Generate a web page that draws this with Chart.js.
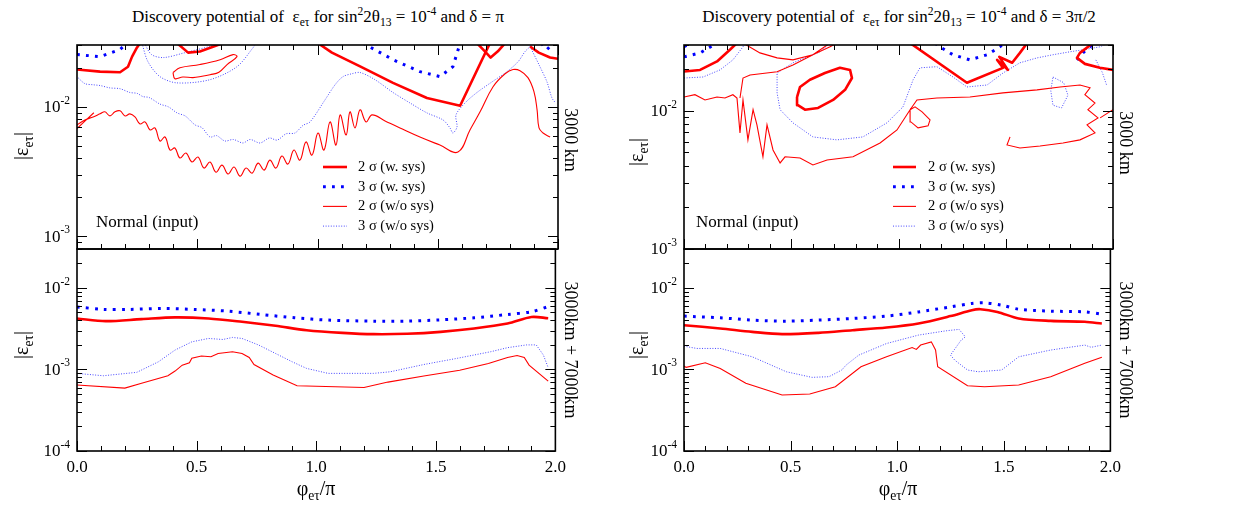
<!DOCTYPE html>
<html>
<head>
<meta charset="utf-8">
<script src="https://cdn.jsdelivr.net/npm/chart.js@4.4.0/dist/chart.umd.min.js"></script>
<style>
  body { margin: 0; background: #fff; }
  #fig { position: relative; width: 1247px; height: 506px; font-family: "Liberation Serif", "DejaVu Serif", serif; color: #000; overflow: hidden; }
  #fig canvas { position: absolute; }
  .lbl { position: absolute; white-space: nowrap; line-height: 1; }
  .title { font-size: 17px; transform: translateX(-50%); }
  .ytitle { font-size: 20px; transform: translate(-50%, -50%) rotate(-90deg); }
  .side { font-size: 18px; transform: translate(-50%, -50%) rotate(90deg); }
  .xtitle { font-size: 20px; transform: translate(-50%, -50%); }
  .note { font-size: 17px; }
  sub, sup { font-size: 68%; line-height: 0; }
</style>
</head>
<body>
<div id="fig">
  <canvas id="lt" width="562" height="220" style="left:0;top:41px"></canvas>
  <canvas id="lb" width="572" height="245" style="left:0;top:245px"></canvas>
  <canvas id="rt" width="497" height="220" style="left:620px;top:41px"></canvas>
  <canvas id="rb" width="507" height="245" style="left:620px;top:245px"></canvas>

  <div class="lbl title" style="left:318px;top:8px">Discovery potential of&nbsp; ε<sub>eτ</sub> for sin<sup>2</sup>2θ<sub>13</sub> = 10<sup>-4</sup> and δ = π</div>
  <div class="lbl title" style="left:899px;top:8px">Discovery potential of&nbsp; ε<sub>eτ</sub> for sin<sup>2</sup>2θ<sub>13</sub> = 10<sup>-4</sup> and δ = 3π/2</div>

  <div class="lbl ytitle" style="left:21px;top:146px">|ε<sub>eτ</sub>|</div>
  <div class="lbl ytitle" style="left:21px;top:345px">|ε<sub>eτ</sub>|</div>
  <div class="lbl ytitle" style="left:636px;top:152px">|ε<sub>eτ</sub>|</div>
  <div class="lbl ytitle" style="left:636px;top:345px">|ε<sub>eτ</sub>|</div>

  <div class="lbl side" style="left:571px;top:140px">3000 km</div>
  <div class="lbl side" style="left:571px;top:350px">3000km + 7000km</div>
  <div class="lbl side" style="left:1126px;top:143px">3000 km</div>
  <div class="lbl side" style="left:1126px;top:350px">3000km + 7000km</div>

  <div class="lbl xtitle" style="left:316px;top:488px">φ<sub>eτ</sub>/π</div>
  <div class="lbl xtitle" style="left:898px;top:488px">φ<sub>eτ</sub>/π</div>

  <div class="lbl note" style="left:96px;top:213px">Normal (input)</div>
  <div class="lbl note" style="left:696px;top:213px">Normal (input)</div>
</div>
<script>
// φ/π on x, |ε_eτ| on y; null breaks a contour into separate pieces
const xTickLabels = ['0.0', '0.5', '1.0', '1.5', '2.0'];
const keyLabels = ['2 σ (w. sys)', '3 σ (w. sys)', '2 σ (w/o sys)', '3 σ (w/o sys)'];

// δ = π, 3000 km
const ltSys2 = [
  [0, 0.0194], [0.096, 0.0187], [0.179, 0.0185], [0.212, 0.0204], [0.229, 0.0244], [0.249, 0.0286], [0.262, 0.031], null,
  [0.416, 0.031], [0.462, 0.0262], [0.511, 0.0267], [0.607, 0.031], null,
  [1.002, 0.031], [1.06, 0.0262], [1.177, 0.0205], [1.314, 0.0153], [1.455, 0.0117], [1.593, 0.0102], [1.717, 0.031], null,
  [1.663, 0.031], [1.696, 0.0268], [1.72, 0.0240], [1.75, 0.0268], [1.78, 0.031], null,
  [1.884, 0.0292], [1.92, 0.0262], [1.967, 0.0240], [2.0, 0.0235]
];
const ltSys3 = [
  [0, 0.0253], [0.096, 0.0244], [0.179, 0.0277], [0.208, 0.031], null,
  [1.189, 0.031], [1.314, 0.0231], [1.426, 0.0187], [1.509, 0.0171], [1.563, 0.0204], [1.593, 0.031], null,
  [1.93, 0.031], [1.954, 0.0277], [1.98, 0.031]
];
const ltStat2 = [
  [0, 0.00725], [0.033, 0.00792], [0.067, 0.00836], [0.096, 0.00883], [0.116, 0.00915], [0.137, 0.00851], [0.158, 0.00915],
  [0.179, 0.00931], [0.200, 0.00851], [0.220, 0.00883], [0.241, 0.00836], [0.262, 0.00738], [0.283, 0.00765], [0.304, 0.00663],
  [0.324, 0.00687], [0.345, 0.00545], [0.366, 0.00585], [0.387, 0.00464], [0.407, 0.00481], [0.428, 0.00403], [0.453, 0.00440],
  [0.478, 0.00375], [0.503, 0.00410], [0.528, 0.00337], [0.553, 0.00375], [0.578, 0.00313], [0.603, 0.00355], [0.628, 0.00303],
  [0.653, 0.00343], [0.678, 0.00292], [0.703, 0.00337], [0.728, 0.00308], [0.753, 0.00368], [0.778, 0.00325], [0.802, 0.00388],
  [0.827, 0.00337], [0.852, 0.00417], [0.877, 0.00362], [0.902, 0.00464], [0.927, 0.00388], [0.952, 0.00536], [0.977, 0.00424],
  [1.002, 0.00628], [1.027, 0.00464], [1.052, 0.00765], [1.077, 0.00507], [1.094, 0.00867], [1.119, 0.00606], [1.135, 0.00915],
  [1.156, 0.00687], [1.177, 0.00948], [1.202, 0.00765], [1.227, 0.00867], [1.281, 0.00778], [1.343, 0.00687], [1.426, 0.00585],
  [1.509, 0.00507], [1.584, 0.00448], [1.634, 0.00663], [1.676, 0.00915], [1.730, 0.0143], [1.780, 0.0180], [1.813, 0.0194],
  [1.842, 0.0190], [1.875, 0.0168], [1.900, 0.0131], [1.913, 0.00948], [1.921, 0.00687], [1.938, 0.00628], [1.967, 0.00585], null,
  [0.399, 0.0184], [0.428, 0.0200], [0.511, 0.0212], [0.595, 0.0231], [0.649, 0.0253], [0.665, 0.0244], [0.624, 0.0212],
  [0.59, 0.0185], [0.553, 0.0177], [0.52, 0.0172], [0.482, 0.0168], [0.44, 0.0170], [0.407, 0.0165], [0.399, 0.0184], null,
  [0, 0.0068], [0.07, 0.0090]
];
const ltStat3 = [
  [0.004, 0.0168], [0.033, 0.0151], [0.067, 0.0148], [0.096, 0.0146], [0.137, 0.0140], [0.179, 0.0138], [0.220, 0.0129],
  [0.25, 0.0127], [0.274, 0.0120], [0.30, 0.0118], [0.345, 0.0105], [0.38, 0.0100], [0.416, 0.00898], [0.45, 0.00850],
  [0.491, 0.00725], [0.52, 0.00690], [0.553, 0.00585], [0.58, 0.00600], [0.615, 0.00545], [0.65, 0.00560], [0.690, 0.00526],
  [0.72, 0.00560], [0.761, 0.00526], [0.80, 0.00575], [0.832, 0.00554], [0.87, 0.00620], [0.906, 0.00628], [0.94, 0.00720],
  [0.969, 0.00765], [1.031, 0.0113], [1.073, 0.0148], [1.106, 0.0171], [1.143, 0.0180], [1.177, 0.0184], [1.239, 0.0162],
  [1.314, 0.0129], [1.385, 0.0107], [1.455, 0.00898], [1.522, 0.00792], [1.551, 0.00687], [1.563, 0.00628], [1.580, 0.00699],
  [1.576, 0.00867], [1.613, 0.0107], [1.663, 0.0129], [1.726, 0.0156], [1.788, 0.0187], [1.834, 0.0223], [1.863, 0.0267],
  [1.884, 0.0292], [1.896, 0.031], null,
  [1.884, 0.0292], [1.925, 0.0204], [1.954, 0.0156], [1.975, 0.0117], [1.99, 0.0107], null,
  [0.27, 0.031], [0.295, 0.0223], [0.345, 0.0171], [0.416, 0.0153], [0.553, 0.0162], [0.665, 0.0204], [0.732, 0.0286], [0.744, 0.031], null,
  [0.28, 0.031], [0.31, 0.0253], [0.36, 0.0240], [0.45, 0.0262], [0.55, 0.0292], [0.60, 0.031]
];

// δ = π, 3000 km + 7000 km
const lbSys2 = [
  [0, 0.00422], [0.12, 0.00391], [0.27, 0.00414], [0.41, 0.00435], [0.55, 0.00422], [0.69, 0.00384], [0.83, 0.00343],
  [0.96, 0.00303], [1.11, 0.00281], [1.24, 0.00271], [1.38, 0.00274], [1.52, 0.00289], [1.66, 0.00318], [1.80, 0.00366],
  [1.90, 0.00440], [1.97, 0.00425]
];
const lbSys3 = [
  [0, 0.00585], [0.11, 0.00545], [0.22, 0.00545], [0.36, 0.00560], [0.49, 0.00545], [0.63, 0.00519], [0.77, 0.00472],
  [0.91, 0.00430], [1.05, 0.00403], [1.24, 0.00391], [1.38, 0.00391], [1.52, 0.00406], [1.66, 0.00430], [1.80, 0.00472],
  [1.90, 0.00510], [1.97, 0.00590]
];
const lbStat2 = [
  [0, 0.000644], [0.20, 0.000590], [0.27, 0.000676], [0.38, 0.000837], [0.41, 0.000955], [0.44, 0.00113], [0.47, 0.00121],
  [0.48, 0.00137], [0.52, 0.00146], [0.56, 0.00143], [0.59, 0.00157], [0.65, 0.00165], [0.69, 0.00157], [0.72, 0.00140],
  [0.74, 0.00115], [0.82, 0.000854], [0.92, 0.000630], [1.20, 0.000600], [1.30, 0.000700], [1.45, 0.000830], [1.60, 0.000980],
  [1.72, 0.00118], [1.80, 0.00140], [1.84, 0.00148], [1.87, 0.00140], [1.89, 0.00113], [1.97, 0.000720]
];
const lbStat3 = [
  [0, 0.000895], [0.11, 0.000837], [0.25, 0.000922], [0.34, 0.00124], [0.41, 0.00173], [0.48, 0.00218], [0.55, 0.00240],
  [0.61, 0.00233], [0.65, 0.00247], [0.69, 0.00240], [0.76, 0.00199], [0.83, 0.00157], [0.90, 0.00124], [0.96, 0.00103],
  [1.05, 0.000895], [1.24, 0.000895], [1.31, 0.000937], [1.45, 0.00115], [1.59, 0.00137], [1.73, 0.00165], [1.80, 0.00185],
  [1.88, 0.00200], [1.92, 0.00200], [1.95, 0.00150], [1.97, 0.00105]
];

// δ = 3π/2, 3000 km
const rtSys2 = [
  [0, 0.0193], [0.075, 0.0198], [0.154, 0.0228], [0.214, 0.0277], [0.247, 0.031], null,
  [0.527, 0.0126], [0.541, 0.0149], [0.587, 0.0168], [0.657, 0.0188], [0.727, 0.0205], [0.774, 0.0198], [0.783, 0.0173],
  [0.751, 0.0142], [0.695, 0.0120], [0.625, 0.0105], [0.564, 0.0102], [0.531, 0.0110], [0.527, 0.0126], null,
  [1.054, 0.031], [1.319, 0.0160], [1.487, 0.0205], [1.46, 0.0234], [1.51, 0.0198], [1.47, 0.0246], [1.53, 0.0223],
  [1.566, 0.0263], [1.60, 0.031], null,
  [1.907, 0.031], [1.846, 0.0263], [1.832, 0.0242], [1.869, 0.0219], [1.939, 0.0205], [2.0, 0.0198]
];
const rtSys3 = [
  [0, 0.0246], [0.075, 0.0263], [0.154, 0.031], null,
  [0, 0.0291], [0.03, 0.031], null,
  [1.17, 0.031], [1.193, 0.0291], [1.254, 0.0255], [1.333, 0.0234], [1.413, 0.0255], [1.473, 0.0291], [1.49, 0.031], null,
  [1.832, 0.0234], [1.860, 0.0263], [1.893, 0.0291], [1.91, 0.031]
];
const rtStat2 = [
  [0, 0.0126], [0.051, 0.0131], [0.098, 0.0120], [0.154, 0.0126], [0.191, 0.0124], [0.228, 0.0131], [0.247, 0.0124],
  [0.261, 0.00693], [0.275, 0.0120], [0.298, 0.00617], [0.322, 0.0102], [0.340, 0.00792], [0.368, 0.00465], [0.387, 0.00792],
  [0.415, 0.00521], [0.448, 0.00420], [0.471, 0.00465], [0.541, 0.00456], [0.601, 0.00406], [0.667, 0.00441], [0.788, 0.00465],
  [0.914, 0.00586], [0.993, 0.00728], [1.054, 0.0102], [1.086, 0.0120], [1.179, 0.0124], [1.333, 0.0126], [1.487, 0.0135],
  [1.646, 0.0142], [1.753, 0.0149], [1.846, 0.0154], [1.893, 0.0147], [1.869, 0.0131], [1.916, 0.0114], [1.883, 0.0102],
  [1.930, 0.00890], [1.879, 0.00792], [1.916, 0.00693], [1.846, 0.00617], [1.767, 0.00586], [1.660, 0.00557], [1.566, 0.00539],
  [1.506, 0.00567], [1.520, 0.00648], null,
  [0.275, 0.031], [0.354, 0.0263], [0.434, 0.0242], [0.508, 0.0234], [0.601, 0.0255], [0.681, 0.0291], [0.713, 0.031], null,
  [0.261, 0.0124], [0.275, 0.0173], [0.308, 0.0182], [0.434, 0.0192], [0.508, 0.0215], [0.601, 0.0255], [0.681, 0.031], null,
  [1.054, 0.0102], [1.077, 0.0107], [1.110, 0.00984], [1.147, 0.00861], [1.138, 0.00779], [1.091, 0.00754], [1.058, 0.00832],
  [1.054, 0.0102], null,
  [1.94, 0.0089], [2.0, 0.0102]
];
const rtStat3 = [
  [0, 0.0173], [0.089, 0.0176], [0.168, 0.0198], [0.228, 0.0234], [0.275, 0.0291], [0.284, 0.031], null,
  [0.681, 0.031], [0.634, 0.0268], [0.508, 0.0223], [0.434, 0.0188], [0.434, 0.0135], [0.448, 0.0102], [0.508, 0.00819],
  [0.601, 0.00648], [0.713, 0.00617], [0.834, 0.00648], [0.946, 0.00819], [1.021, 0.0107], [1.068, 0.0168], [1.100, 0.0205],
  [1.179, 0.0209], [1.254, 0.0176], [1.319, 0.0149], [1.413, 0.0154], [1.487, 0.0188], [1.566, 0.0223], [1.646, 0.0242],
  [1.720, 0.0255], [1.80, 0.0268], [1.860, 0.0277], [1.939, 0.0291], [1.98, 0.031], null,
  [1.72, 0.0176], [1.77, 0.0160], [1.79, 0.0130], [1.76, 0.0105], [1.72, 0.0110], [1.71, 0.0140], [1.72, 0.0176], null,
  [1.92, 0.0234], [1.95, 0.0190], [1.97, 0.0154]
];

// δ = 3π/2, 3000 km + 7000 km
const rbSys2 = [
  [0, 0.00349], [0.17, 0.00318], [0.32, 0.00289], [0.46, 0.00271], [0.63, 0.00281], [0.79, 0.00303], [0.95, 0.00327],
  [1.10, 0.00366], [1.25, 0.00451], [1.35, 0.00533], [1.39, 0.00548], [1.47, 0.00508], [1.57, 0.00422], [1.72, 0.00394],
  [1.88, 0.00384], [1.96, 0.00366]
];
const rbSys3 = [
  [0, 0.00451], [0.17, 0.00430], [0.32, 0.00403], [0.48, 0.00391], [0.63, 0.00403], [0.79, 0.00422], [0.95, 0.00451],
  [1.10, 0.00508], [1.25, 0.00585], [1.35, 0.00644], [1.41, 0.00655], [1.49, 0.00614], [1.57, 0.00548], [1.72, 0.00519],
  [1.88, 0.00508], [1.96, 0.00476]
];
const rbStat2 = [
  [0, 0.00110], [0.01, 0.00106], [0.10, 0.00121], [0.17, 0.00103], [0.29, 0.000676], [0.46, 0.000486], [0.59, 0.000500],
  [0.71, 0.000614], [0.83, 0.00108], [0.95, 0.00143], [1.07, 0.00186], [1.09, 0.00176], [1.11, 0.00199], [1.16, 0.00218],
  [1.18, 0.00173], [1.19, 0.00108], [1.33, 0.000631], [1.41, 0.000614], [1.57, 0.000644], [1.72, 0.000815], [1.88, 0.00119],
  [1.96, 0.00141]
];
const rbStat3 = [
  [0, 0.00193], [0.06, 0.00181], [0.17, 0.00181], [0.32, 0.00143], [0.48, 0.000937], [0.60, 0.000800], [0.68, 0.000815],
  [0.74, 0.000984], [0.76, 0.00113], [0.82, 0.00150], [0.95, 0.00208], [1.10, 0.00264], [1.23, 0.00298], [1.29, 0.00310],
  [1.32, 0.00251], [1.30, 0.00229], [1.25, 0.00150], [1.27, 0.00130], [1.33, 0.000984], [1.38, 0.000937], [1.49, 0.000984],
  [1.51, 0.00108], [1.57, 0.00143], [1.72, 0.00173], [1.88, 0.00199], [1.91, 0.00187], [1.96, 0.00199]
];

const serif = '"Liberation Serif", "DejaVu Serif", serif';

// one style per contour level: thick = with systematics, thin = without
const lineStyles = [
  { borderColor: '#ff0000', borderWidth: 2.6, borderJoinStyle: 'round' },
  { borderColor: '#0000ff', borderWidth: 3, borderDash: [2.8, 6.2] },
  { borderColor: '#ff0000', borderWidth: 1.1 },
  { borderColor: '#4848ff', borderWidth: 1, borderDash: [1, 1.6] }
];

function pts(list) {
  return list.map(p => p ? { x: p[0], y: p[1] } : { x: null, y: null });
}

function isHalf(v) {
  return Math.abs(v * 2 - Math.round(v * 2)) < 1e-6;
}

function mantissa(v) {
  const e = Math.floor(Math.log10(v) + 1e-9);
  return { e, m: v / Math.pow(10, e) };
}

// box, inward tick marks and 10^n labels
const frame = {
  id: 'frame',
  afterDatasetsDraw(chart, args, o) {
    const { ctx, chartArea: a, scales: { x, y } } = chart;
    ctx.save();
    ctx.strokeStyle = '#000';
    ctx.lineWidth = 1;
    ctx.beginPath();
    x.ticks.forEach(t => {
      const px = Math.round(x.getPixelForValue(t.value)) + 0.5;
      const len = isHalf(t.value) ? 10 : 5;
      ctx.moveTo(px, a.bottom); ctx.lineTo(px, a.bottom - len);
      if (o.topTicks) { ctx.moveTo(px, a.top); ctx.lineTo(px, a.top + len); }
    });
    y.ticks.forEach(t => {
      const { m } = mantissa(t.value);
      if (Math.abs(m - Math.round(m)) > 1e-6) return;
      const py = Math.round(y.getPixelForValue(t.value)) + 0.5;
      const len = Math.round(m) === 1 ? 10 : 5;
      ctx.moveTo(a.left, py); ctx.lineTo(a.left + len, py);
      ctx.moveTo(a.right, py); ctx.lineTo(a.right - len, py);
    });
    ctx.stroke();
    ctx.lineWidth = 1.6;
    ctx.strokeRect(a.left, a.top, a.width, a.height);

    ctx.fillStyle = '#000';
    ctx.textBaseline = 'middle';
    ctx.textAlign = 'right';
    y.ticks.forEach(t => {
      const { e, m } = mantissa(t.value);
      if (Math.abs(m - 1) > 1e-6) return;
      const py = y.getPixelForValue(t.value);
      const exp = String(e);
      ctx.font = '11.5px ' + serif;
      const w = ctx.measureText(exp).width;
      ctx.fillText(exp, a.left - 7, py - 6);
      ctx.font = '17px ' + serif;
      ctx.fillText('10', a.left - 7 - w, py + 1);
    });
    ctx.restore();
  }
};

// key drawn inside the plot from the dataset styles
const sigmaKey = {
  id: 'sigmaKey',
  afterDatasetsDraw(chart, args, o) {
    if (!o.show) return;
    const { ctx, chartArea: a } = chart;
    chart.data.datasets.forEach((ds, i) => {
      const yy = a.top + o.y + i * o.gap;
      const x0 = a.left + o.x;
      ctx.save();
      ctx.strokeStyle = ds.borderColor;
      ctx.lineWidth = ds.borderWidth;
      ctx.setLineDash(ds.borderDash || []);
      ctx.beginPath();
      ctx.moveTo(x0, yy);
      ctx.lineTo(x0 + o.len, yy);
      ctx.stroke();
      ctx.setLineDash([]);
      ctx.fillStyle = '#000';
      ctx.font = '14.5px ' + serif;
      ctx.textBaseline = 'middle';
      ctx.fillText(ds.label, x0 + o.len + o.pad, yy);
      ctx.restore();
    });
  }
};

function makeChart(id, yMin, yMax, series, o) {
  return new Chart(document.getElementById(id), {
    type: 'line',
    data: {
      datasets: series.map((s, i) => Object.assign({
        label: keyLabels[i],
        data: pts(s),
        pointRadius: 0,
        tension: (o.smooth && o.smooth[i]) || 0,
        fill: false,
        spanGaps: false
      }, lineStyles[i]))
    },
    options: {
      responsive: false,
      animation: false,
      events: [],
      layout: { padding: o.pad },
      plugins: {
        legend: { display: false },
        tooltip: { enabled: false },
        frame: { topTicks: o.topTicks },
        sigmaKey: o.key || { show: false }
      },
      scales: {
        x: {
          type: 'linear', min: 0, max: 2,
          grid: { display: false, drawTicks: false },
          border: { display: false },
          ticks: {
            display: o.xLabels, stepSize: 0.1, autoSkip: false, maxRotation: 0, padding: 6,
            color: '#000', font: { family: serif, size: 17 },
            callback: v => isHalf(v) ? xTickLabels[Math.round(v * 2)] : ''
          },
          afterFit: s => { s.height = o.xHeight; }
        },
        y: {
          type: 'logarithmic', min: yMin, max: yMax,
          grid: { display: false, drawTicks: false },
          border: { display: false },
          ticks: { display: false },
          afterFit: s => { s.width = o.yWidth; }
        }
      }
    },
    plugins: [frame, sigmaKey]
  });
}

const topPad = { left: 0, top: 4, right: 4, bottom: 12 };
const botPad = { left: 0, top: 4, right: 14, bottom: 0 };

makeChart('lt', 8e-4, 3e-2, [ltSys2, ltSys3, ltStat2, ltStat3], {
  pad: topPad, topTicks: true, xLabels: false, xHeight: 0, yWidth: 77,
  smooth: [0, 0, 0.4, 0.3],
  key: { show: true, x: 246, y: 122, gap: 19.7, len: 24, pad: 11 }
});
makeChart('lb', 1e-4, 3e-2, [lbSys2, lbSys3, lbStat2, lbStat3], {
  pad: botPad, topTicks: false, xLabels: true, xHeight: 39, yWidth: 77,
  smooth: [0.3, 0.3, 0, 0]
});
makeChart('rt', 1e-3, 3e-2, [rtSys2, rtSys3, rtStat2, rtStat3], {
  pad: topPad, topTicks: true, xLabels: false, xHeight: 0, yWidth: 64,
  key: { show: true, x: 209, y: 122, gap: 19.7, len: 23, pad: 12 }
});
makeChart('rb', 1e-4, 3e-2, [rbSys2, rbSys3, rbStat2, rbStat3], {
  pad: botPad, topTicks: false, xLabels: true, xHeight: 39, yWidth: 64,
  smooth: [0.3, 0.3, 0, 0]
});
</script>
</body>
</html>
